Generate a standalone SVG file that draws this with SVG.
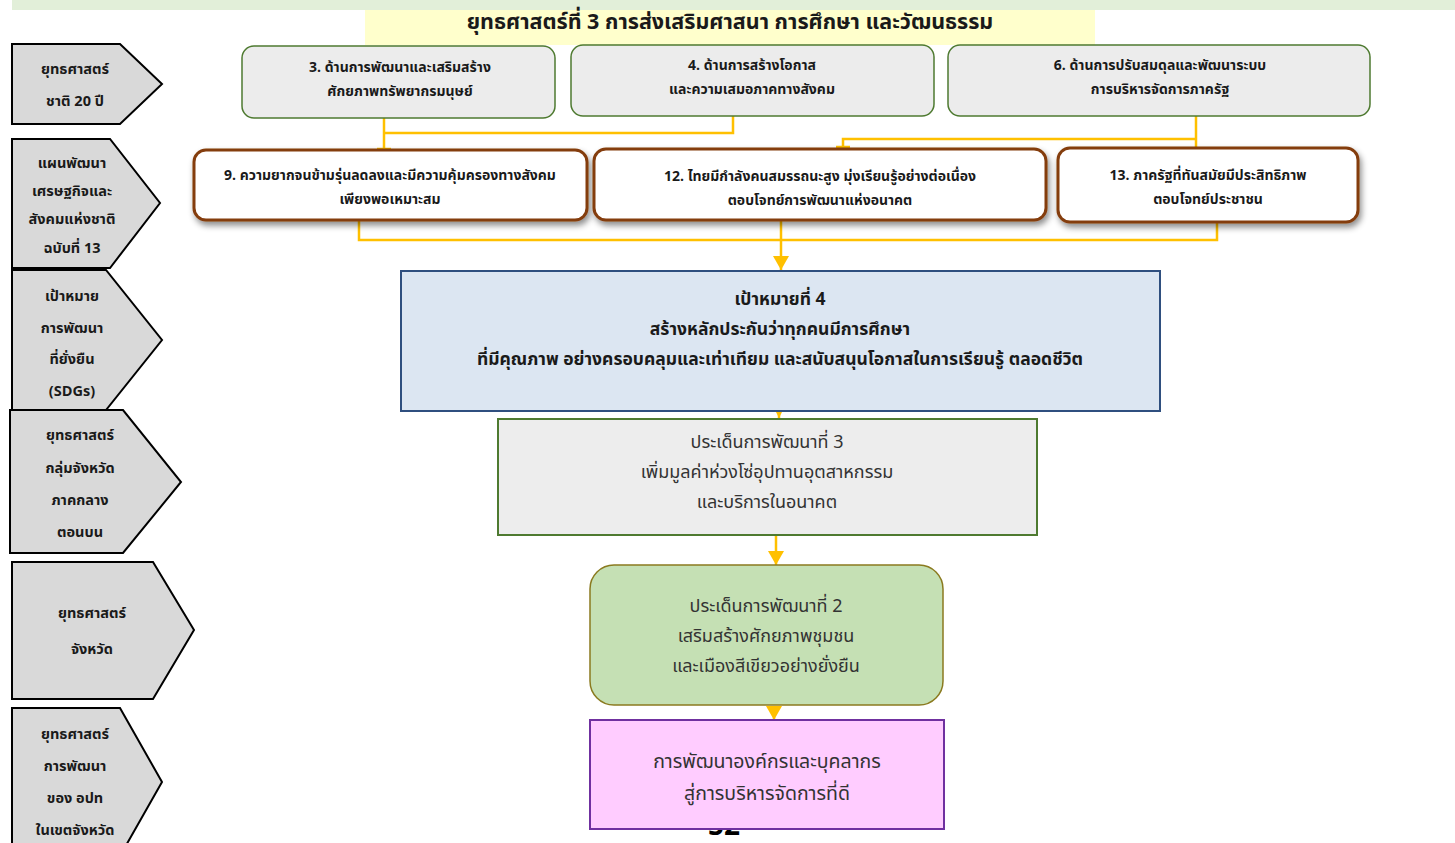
<svg xmlns="http://www.w3.org/2000/svg" width="1455" height="843" viewBox="0 0 1455 843">
<style>
text{font-family:"Noto Sans Thai","Noto Sans","DejaVu Sans",sans-serif;text-anchor:middle;fill:#1a1a1a}
.pent{fill:#d9d9d9;stroke:#000;stroke-width:2}
.pt{font-size:14.5px;font-weight:bold}
.top{fill:#ececec;stroke:#4e7a30;stroke-width:1.5}
.tt{font-size:14px;font-weight:bold}
.row2{fill:#fff;stroke:#843c0c;stroke-width:3;filter:url(#sh)}
.con{fill:none;stroke:#ffc000;stroke-width:2.5}
.bt{font-size:18px;fill:#333}
</style>
<defs>
<filter id="sh" x="-10%" y="-20%" width="120%" height="150%">
<feDropShadow dx="2" dy="4" stdDeviation="3" flood-color="#000" flood-opacity="0.45"/>
</filter>
<marker id="ah" markerWidth="8" markerHeight="8" refX="8" refY="4" orient="auto" markerUnits="userSpaceOnUse" viewBox="0 0 8 8">
<path d="M0,0 L8,4 L0,8 Z" fill="#ffc000"/>
</marker>
<marker id="ahb" markerWidth="14" markerHeight="16" refX="14" refY="8" orient="auto" markerUnits="userSpaceOnUse" viewBox="0 0 14 16">
<path d="M0,0 L14,8 L0,16 Z" fill="#ffc000"/>
</marker>
</defs>

<g id="banner">
<rect x="12" y="0" width="1443" height="10" fill="#e2efd9"/>
<rect x="365" y="10" width="730" height="35" fill="#ffffcc"/>
<text x="730" y="29" style="font-size:21.5px;font-weight:bold">ยุทธศาสตร์ที่ 3 การส่งเสริมศาสนา การศึกษา และวัฒนธรรม</text>
</g>

<g id="left-labels">
<g id="p1"><path class="pent" d="M12,44 H120 L162,84 L120,124 H12 Z"/>
<text class="pt" x="75" y="74">ยุทธศาสตร์</text><text class="pt" x="75" y="106">ชาติ 20 ปี</text></g>
<g id="p2"><path class="pent" d="M12,139 H110 L160,203 L110,268 H12 Z"/>
<text class="pt" x="72" y="168">แผนพัฒนา</text><text class="pt" x="72" y="196">เศรษฐกิจและ</text><text class="pt" x="72" y="224">สังคมแห่งชาติ</text><text class="pt" x="72" y="253">ฉบับที่ 13</text></g>
<g id="p3"><path class="pent" d="M12,270 H106 L162,340 L106,410 H12 Z"/>
<text class="pt" x="72" y="301">เป้าหมาย</text><text class="pt" x="72" y="333">การพัฒนา</text><text class="pt" x="72" y="364">ที่ยั่งยืน</text><text class="pt" x="72" y="396">(SDGs)</text></g>
<g id="p4"><path class="pent" d="M10,410 H123 L181,482 L123,553 H10 Z"/>
<text class="pt" x="80" y="440">ยุทธศาสตร์</text><text class="pt" x="80" y="473">กลุ่มจังหวัด</text><text class="pt" x="80" y="505">ภาคกลาง</text><text class="pt" x="80" y="537">ตอนบน</text></g>
<g id="p5"><path class="pent" d="M12,562 H153 L194,630 L153,699 H12 Z"/>
<text class="pt" x="92" y="618">ยุทธศาสตร์</text><text class="pt" x="92" y="654">จังหวัด</text></g>
<g id="p6"><path class="pent" d="M12,708 H120 L162,782 L120,856 H12 Z"/>
<text class="pt" x="75" y="739">ยุทธศาสตร์</text><text class="pt" x="75" y="771">การพัฒนา</text><text class="pt" x="75" y="803">ของ อปท</text><text class="pt" x="75" y="835">ในเขตจังหวัด</text></g>
</g>

<g id="connectors">
<path class="con" d="M733,116 V133 H384"/>
<path class="con" d="M384,118 V150"/>
<path class="con" d="M377,149 H391" stroke-width="3"/>
<path class="con" d="M1196,116 V147"/>
<path class="con" d="M1196,139 H843 V148"/>
<path class="con" d="M836,147 H850" stroke-width="3"/>
<path class="con" d="M359,220 V240 H1217 V222"/>
<path class="con" d="M781,220 V270" marker-end="url(#ahb)"/>
<path class="con" d="M779,409 V418" stroke-width="1.5" marker-end="url(#ah)"/>
<path class="con" d="M776,536 V565" marker-end="url(#ahb)"/>
<path class="con" d="M774,706 V720" marker-end="url(#ahb)"/>
</g>

<g id="n3"><rect class="top" x="242" y="46" width="313" height="72" rx="12"/>
<text class="tt" x="400" y="72">3. ด้านการพัฒนาและเสริมสร้าง</text><text class="tt" x="400" y="96">ศักยภาพทรัพยากรมนุษย์</text></g>
<g id="n4"><rect class="top" x="571" y="45" width="363" height="71" rx="12"/>
<text class="tt" x="752" y="70">4. ด้านการสร้างโอกาส</text><text class="tt" x="752" y="94">และความเสมอภาคทางสังคม</text></g>
<g id="n6"><rect class="top" x="948" y="45" width="422" height="71" rx="12"/>
<text class="tt" x="1160" y="70">6. ด้านการปรับสมดุลและพัฒนาระบบ</text><text class="tt" x="1160" y="94">การบริหารจัดการภาครัฐ</text></g>

<g id="n9"><rect class="row2" x="194" y="150" width="393" height="70" rx="12"/>
<text class="tt" x="390" y="180">9. ความยากจนข้ามรุ่นลดลงและมีความคุ้มครองทางสังคม</text><text class="tt" x="390" y="204">เพียงพอเหมาะสม</text></g>
<g id="n12"><rect class="row2" x="594" y="149" width="452" height="71" rx="12"/>
<text class="tt" x="820" y="181">12. ไทยมีกำลังคนสมรรถนะสูง มุ่งเรียนรู้อย่างต่อเนื่อง</text><text class="tt" x="820" y="205">ตอบโจทย์การพัฒนาแห่งอนาคต</text></g>
<g id="n13"><rect class="row2" x="1058" y="148" width="300" height="74" rx="12"/>
<text class="tt" x="1208" y="180">13. ภาครัฐที่ทันสมัยมีประสิทธิภาพ</text><text class="tt" x="1208" y="204">ตอบโจทย์ประชาชน</text></g>

<g id="goal"><rect x="401" y="271" width="759" height="140" fill="#dce6f2" stroke="#2f4f7f" stroke-width="2"/>
<text x="780" y="305" style="font-size:17.5px;font-weight:bold">เป้าหมายที่ 4</text>
<text x="780" y="335" style="font-size:17.5px;font-weight:bold">สร้างหลักประกันว่าทุกคนมีการศึกษา</text>
<text x="780" y="365" style="font-size:17.5px;font-weight:bold">ที่มีคุณภาพ อย่างครอบคลุมและเท่าเทียม และสนับสนุนโอกาสในการเรียนรู้ ตลอดชีวิต</text></g>

<g id="issue3"><rect x="498" y="419" width="539" height="116" fill="#ededed" stroke="#4e7a30" stroke-width="2"/>
<text class="bt" x="767" y="448">ประเด็นการพัฒนาที่ 3</text>
<text class="bt" x="767" y="478">เพิ่มมูลค่าห่วงโซ่อุปทานอุตสาหกรรม</text>
<text class="bt" x="767" y="508">และบริการในอนาคต</text></g>

<g id="issue2"><rect x="590" y="565" width="353" height="140" rx="24" fill="#c5e0b4" stroke="#8a7a1f" stroke-width="1.5"/>
<text class="bt" x="766" y="612">ประเด็นการพัฒนาที่ 2</text>
<text class="bt" x="766" y="642">เสริมสร้างศักยภาพชุมชน</text>
<text class="bt" x="766" y="672">และเมืองสีเขียวอย่างยั่งยืน</text></g>

<text x="724" y="835" style="font-size:28px;font-weight:bold;fill:#000">52</text>

<g id="org"><rect x="590" y="720" width="354" height="109" fill="#ffccff" stroke="#7030a0" stroke-width="2"/>
<text class="bt" x="767" y="768" style="font-size:19.5px">การพัฒนาองค์กรและบุคลากร</text>
<text class="bt" x="767" y="800" style="font-size:19.5px">สู่การบริหารจัดการที่ดี</text></g>
</svg>
